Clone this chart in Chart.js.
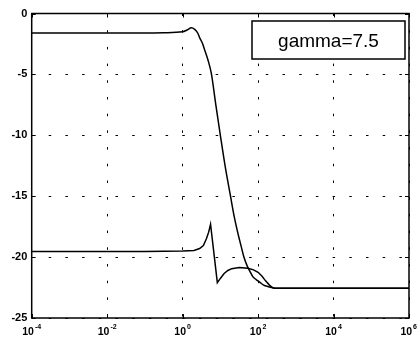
<!DOCTYPE html>
<html>
<head>
<meta charset="utf-8">
<script src="https://cdn.jsdelivr.net/npm/chart.js@4.4.1/dist/chart.umd.min.js"></script>
<style>
  html, body { margin: 0; padding: 0; background: #fff; }
  canvas { display: block; }
</style>
</head>
<body>
<canvas id="c" width="418" height="340" style="width:418px;height:340px"></canvas>
<script>
// ---- data ----
const upperFreq = [0.0001, 0.1, 0.316, 1, 1.32, 1.70, 2.09, 2.51, 2.82, 3.31, 3.80, 4.68, 5.75, 7.59, 10, 13.5, 18.6, 23.4, 29.5, 35.5, 41.7, 51.3, 60.3, 72.4, 89.1, 110, 141, 182, 275, 1000000];
const upperMag  = [-1.6, -1.6, -1.58, -1.5, -1.35, -1.18, -1.3, -1.6, -1.98, -2.4, -2.95, -3.8, -4.9, -7.5, -10.0, -12.6, -15.0, -16.7, -18.1, -19.1, -19.95, -20.72, -21.15, -21.6, -21.85, -22.05, -22.3, -22.42, -22.55, -22.55];

const lowerFreq = [0.0001, 0.1, 1, 2.0, 2.82, 3.55, 4.27, 4.9, 5.5, 8.32, 10, 12.6, 15.8, 20, 31.6, 53.7, 75.9, 100, 126, 158, 200, 240, 275, 1000000];
const lowerMag  = [-19.55, -19.55, -19.5, -19.45, -19.3, -19.05, -18.5, -17.95, -17.3, -22.1, -21.75, -21.35, -21.1, -20.95, -20.85, -20.92, -21.05, -21.25, -21.55, -21.95, -22.3, -22.5, -22.55, -22.55];

const xTickValues    = [0.0001, 0.01, 1, 100, 10000, 1000000];
const xTickExponents = [-4, -2, 0, 2, 4, 6];
const yTickValues    = [-25, -20, -15, -10, -5, 0];
const legendText = 'gamma=7.5';

const FONT = '"Liberation Sans", Arial, Helvetica, sans-serif';

function toPoints(xs, ys) { return xs.map((x, i) => ({ x: x, y: ys[i] })); }

const framePlugin = {
  id: 'frame',
  afterDraw(chart) {
    const ctx = chart.ctx, a = chart.chartArea;
    const xs = chart.scales.x, ys = chart.scales.y;
    ctx.save();
    // axes box
    ctx.strokeStyle = '#000';
    ctx.lineWidth = 1.5;
    ctx.strokeRect(a.left, a.top, a.right - a.left, a.bottom - a.top);
    // inner ticks
    ctx.lineWidth = 1;
    const tl = 4;
    ctx.beginPath();
    xTickValues.forEach(v => {
      const px = Math.round(xs.getPixelForValue(v)) + 0.5;
      ctx.moveTo(px, a.bottom); ctx.lineTo(px, a.bottom - tl);
      ctx.moveTo(px, a.top); ctx.lineTo(px, a.top + tl);
    });
    yTickValues.forEach(v => {
      const py = Math.round(ys.getPixelForValue(v)) + 0.5;
      ctx.moveTo(a.left, py); ctx.lineTo(a.left + tl, py);
      ctx.moveTo(a.right, py); ctx.lineTo(a.right - tl, py);
    });
    ctx.stroke();
    // x tick labels 10^n
    ctx.fillStyle = '#000';
    ctx.textBaseline = 'alphabetic';
    ctx.textAlign = 'left';
    xTickValues.forEach((v, i) => {
      const px = xs.getPixelForValue(v);
      ctx.font = 'bold 10.5px ' + FONT;
      const base = '10';
      const wb = ctx.measureText(base).width;
      ctx.font = 'bold 7px ' + FONT;
      const sup = String(xTickExponents[i]);
      const ws = ctx.measureText(sup).width;
      const total = wb + 1 + ws;
      let x0 = px - total / 2;
      if (x0 + total > chart.width - 1) x0 = chart.width - 1 - total;
      ctx.font = 'bold 10.5px ' + FONT;
      ctx.fillText(base, x0, a.bottom + 17);
      ctx.font = 'bold 7px ' + FONT;
      ctx.fillText(sup, x0 + wb + 1, a.bottom + 10.5);
    });
    // legend box
    const bw = 153, bh = 38;
    const bx = a.right - 4 - bw, by = a.top + 7.5;
    ctx.fillStyle = '#fff';
    ctx.fillRect(bx, by, bw, bh);
    ctx.strokeStyle = '#000';
    ctx.lineWidth = 1.5;
    ctx.strokeRect(bx, by, bw, bh);
    ctx.fillStyle = '#000';
    ctx.font = '19px ' + FONT;
    ctx.textAlign = 'center';
    ctx.textBaseline = 'alphabetic';
    ctx.fillText(legendText, bx + bw / 2, by + 25.5);
    ctx.restore();
  }
};

new Chart(document.getElementById('c'), {
  type: 'line',
  data: {
    datasets: [
      {
        data: toPoints(upperFreq, upperMag),
        borderColor: '#000', borderWidth: 1.5, pointRadius: 0,
        cubicInterpolationMode: 'monotone', fill: false
      },
      {
        data: toPoints(lowerFreq, lowerMag),
        borderColor: '#000', borderWidth: 1.5, pointRadius: 0,
        tension: 0, fill: false
      }
    ]
  },
  options: {
    responsive: false,
    animation: false,
    devicePixelRatio: 1,
    layout: { padding: { top: 13.5, right: 9, bottom: 22, left: 0 } },
    plugins: { legend: { display: false }, tooltip: { enabled: false } },
    scales: {
      x: {
        type: 'logarithmic',
        min: 0.0001, max: 1000000,
        afterBuildTicks: s => { s.ticks = xTickValues.map(v => ({ value: v })); },
        afterFit: s => { s.height = 0; },
        ticks: { display: false },
        grid: { color: '#000', lineWidth: 1, drawTicks: false },
        border: { display: false, dash: [2.5, 14.2] }
      },
      y: {
        type: 'linear',
        min: -25, max: 0,
        afterBuildTicks: s => { s.ticks = yTickValues.map(v => ({ value: v })); },
        afterFit: s => { s.width = 31.7; },
        ticks: {
          color: '#000', padding: 4.4,
          font: { family: FONT, size: 11, weight: 'bold' },
          callback: v => String(v)
        },
        grid: { color: '#000', lineWidth: 1, drawTicks: false },
        border: { display: false, dash: [2.5, 14.2] }
      }
    }
  },
  plugins: [framePlugin]
});
</script>
</body>
</html>
